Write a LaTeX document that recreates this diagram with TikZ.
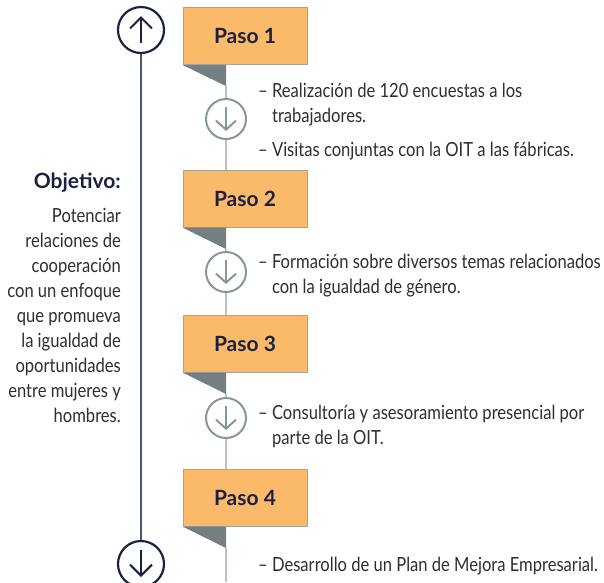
\documentclass[tikz,border=0pt]{standalone}
\usepackage{fontspec}
\setmainfont{Lato}[FakeStretch=0.85]
\newfontfamily\negrita{Lato}
\usetikzlibrary{arrows.meta,positioning}

\definecolor{azulosc}{HTML}{1B2142}
\definecolor{azullin}{HTML}{4D5572}
\definecolor{naranja}{HTML}{FBBA6A}
\definecolor{bordecaja}{HTML}{A8A29A}
\definecolor{pliegue}{HTML}{747F82}
\definecolor{grislin}{HTML}{BAC1C4}
\definecolor{griscirc}{HTML}{8B969A}
\definecolor{texto}{HTML}{2E2E2E}

\begin{document}
\begin{tikzpicture}[x=1pt,y=-1pt]

  \tikzset{paso/.style = {draw=bordecaja,fill=naranja,line width=1pt,
      minimum width=124pt,minimum height=57pt,inner sep=0pt,text=azulosc,
      font=\negrita\bfseries\fontsize{21}{24}\selectfont}}
  \tikzset{circgris/.style = {circle,draw=griscirc,line width=2pt,minimum size=40pt}}
  \tikzset{circazul/.style = {circle,draw=azulosc,line width=2.2pt,minimum size=46pt}}
  \tikzset{flecha/.style = {line width=2pt,-{Straight Barb[length=9pt,width=20pt]}}}
  \tikzset{item/.style = {anchor=base west,inner sep=0pt,align=left,text=texto,
      font=\fontsize{19.5}{25}\selectfont}}
  \useasboundingbox (0,0) rectangle (604,582);

  % linea izquierda
  \node[circazul] (arriba) at (141,30) {};
  \node[circazul] (abajo) at (141,564) {};
  \draw[azullin,line width=2.5pt] (arriba) -- (abajo);
  \draw[flecha,azulosc,-{Straight Barb[length=11pt,width=22pt]}] ([yshift=-13pt]arriba.center) -- ([yshift=14pt]arriba.center);
  \draw[flecha,azulosc,-{Straight Barb[length=11pt,width=22pt]}] ([yshift=14pt]abajo.center) -- ([yshift=-13pt]abajo.center);

  \node[anchor=base east,inner sep=0pt,text=azulosc,
    font=\negrita\bfseries\fontsize{21}{24}\selectfont] (obj) at (121,188) {Objetivo:};
  % ancla en la ultima linea
  \node[anchor=base east,inner sep=0pt,align=right,text=texto,
    font=\fontsize{19.5}{25}\selectfont] (desc) at (121,422)
    {Potenciar\\relaciones de\\cooperación\\con un enfoque\\que promueva\\la igualdad de\\oportunidades\\entre mujeres y\\hombres.};

  % pasos
  \node[paso] (p1) at (245,36)    {Paso 1};
  \node[paso] (p2) at (245,198.5) {Paso 2};
  \node[paso] (p3) at (245,343.5) {Paso 3};
  \node[paso] (p4) at (245,497.5) {Paso 4};

  % pliegues
  \coordinate (t1) at (226,86);
  \coordinate (t2) at (226,249);
  \coordinate (t3) at (226,394);
  \coordinate (t4) at (226,548);
  \coordinate (fin) at (226,582);
  \foreach \i in {1,2,3,4}
    \fill[pliegue] (p\i.south west) -- (p\i.south west -| t\i) -- (t\i) -- cycle;

  % circulos
  \node[circgris] (c1) at (226,119) {};
  \node[circgris] (c2) at (226,272) {};
  \node[circgris] (c3) at (226,418) {};
  \foreach \i/\j in {1/2,2/3,3/4} {
    \draw[grislin,line width=2pt] (t\i) -- (c\i);
    \draw[grislin,line width=2pt] (c\i) -- (c\i |- p\j.north);
    \draw[flecha,griscirc] ([yshift=12pt]c\i.center) -- ([yshift=-12pt]c\i.center);
  }
  \draw[grislin,line width=2pt] (t4) -- (fin);

  % textos (ancla en la ultima linea)
  \node[item] (i1) at (258,122) {– Realización de 120 encuestas a los\\\phantom{– }trabajadores.};
  \node[item] (i2) at (258,156) {– Visitas conjuntas con la OIT a las fábricas.};
  \node[item] (i3) at (258,293) {– Formación sobre diversos temas relacionados\\\phantom{– }con la igualdad de género.};
  \node[item] (i4) at (258,444) {– Consultoría y asesoramiento presencial por\\\phantom{– }parte de la OIT.};
  \node[item] (i5) at (258,571) {– Desarrollo de un Plan de Mejora Empresarial.};
\end{tikzpicture}
\end{document}
